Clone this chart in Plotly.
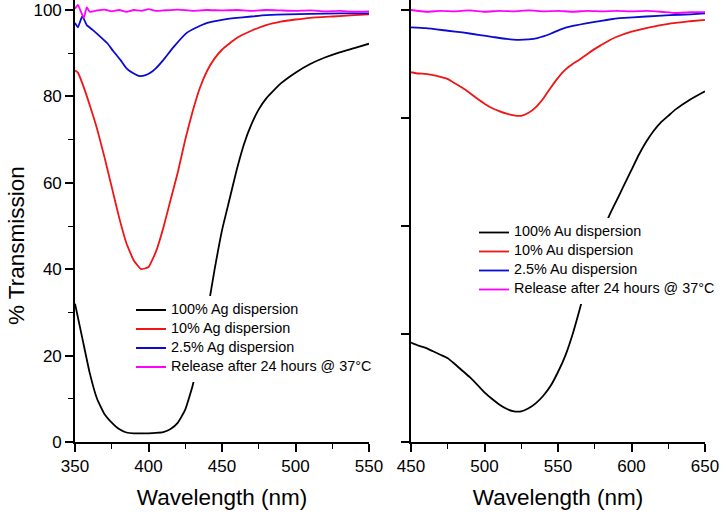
import plotly.graph_objects as go

# ---------------- Ag panel (left) ----------------
ag_black_x = [350, 355, 360, 365, 370, 375, 380, 385, 390, 395, 400, 405, 410, 415, 420, 425, 430, 435, 440,
              445, 450, 455, 460, 465, 470, 475, 480, 490, 500, 510, 520, 530, 540, 550]
ag_black_y = [32, 24, 16, 10, 6.5, 4.5, 3, 2.2, 2, 2, 2, 2.1, 2.3, 3, 4.5, 7.5, 13, 21, 30,
              40, 49, 56, 63, 69, 73.5, 77, 79.5, 83, 85.5, 87.5, 89, 90.2, 91.2, 92.2]

ag_red_x = [350, 352, 355, 360, 365, 370, 375, 380, 385, 390, 395, 400, 405, 410, 415, 420, 425, 430, 435,
            440, 445, 450, 460, 470, 480, 490, 500, 510, 525, 540, 550]
ag_red_y = [86, 85.5, 83, 78, 72.5, 66, 59, 52, 46, 42, 40, 40.5, 44, 49.5, 56, 62.5, 70, 76.5, 82,
            86, 88.8, 90.8, 93.5, 95.2, 96.5, 97.3, 97.8, 98.2, 98.5, 98.8, 99]

ag_blue_x = [350, 352, 355, 358, 362, 366, 372, 376, 381, 385, 390, 394, 398, 401, 405, 410, 417, 426, 433,
             440, 450, 458, 470, 480, 495, 510, 530, 550]
ag_blue_y = [97, 96, 98.6, 96.5, 95.4, 94.2, 92.3, 90.5, 88.4, 86.5, 85.3, 84.7, 84.9, 85.4, 86.5, 88.4, 91.4,
             94.7, 96, 97, 97.7, 98.1, 98.5, 98.8, 99, 99.1, 99.2, 99.2]

ag_mag_x = [350, 352, 354, 356, 358, 360, 365, 370, 375, 380, 385, 390, 395, 400, 405, 410, 420, 430, 440,
            450, 460, 470, 480, 490, 500, 510, 520, 530, 540, 550]
ag_mag_y = [100.3, 101.2, 99.6, 98.2, 100.6, 99.6, 99.9, 100.1, 99.7, 100.0, 99.6, 100.0, 99.8, 100.2, 99.8,
            99.9, 100.1, 99.8, 100.0, 99.9, 100.0, 99.8, 100.0, 99.9, 99.8, 99.9, 99.7, 99.8, 99.6, 99.7]

# ---------------- Au panel (right) ----------------
au_black_x = [450, 455, 460, 465, 470, 475, 480, 485, 490, 495, 500, 505, 510, 515, 520, 525, 530, 535, 540,
              545, 550, 555, 560, 565, 570, 575, 580, 585, 590, 595, 600, 605, 610, 615, 620, 625, 630, 640, 650]
au_black_y = [23, 22.3, 21.8, 21, 20.2, 19.4, 18, 16.5, 15, 13.3, 11.5, 10, 8.7, 7.7, 7.1, 7.1, 7.8, 9, 10.7,
              13, 16.2, 20, 25, 31, 37.5, 43.5, 48.5, 52.5, 56, 59.5, 63, 66.5, 69.5, 72, 74, 75.5, 77, 79.3, 81.2]

au_red_x = [450, 455, 460, 465, 470, 475, 480, 485, 490, 495, 500, 505, 510, 515, 520, 525, 530, 535, 540,
            545, 550, 555, 560, 565, 570, 575, 580, 585, 590, 600, 610, 620, 630, 640, 650]
au_red_y = [85.6, 85.3, 85.2, 84.9, 84.5, 84, 83, 82, 80.8, 79.5, 78.3, 77.3, 76.6, 76, 75.6, 75.5, 76.2, 77.5,
            79.5, 82, 84.3, 86.2, 87.5, 88.6, 89.8, 91, 92, 93, 93.8, 95, 95.8, 96.5, 97, 97.4, 97.7]

au_blue_x = [450, 460, 475, 485, 497, 505, 515, 522, 530, 536, 545, 551, 560, 574, 585, 592, 610, 626, 640, 650]
au_blue_y = [96, 95.8, 95.2, 94.8, 94.2, 93.8, 93.3, 93.1, 93.2, 93.5, 94.5, 95.4, 96.3, 97.2, 97.8, 98.1,
             98.5, 98.8, 99.0, 99.2]

au_mag_x = [450, 460, 470, 480, 490, 500, 510, 520, 530, 540, 550, 560, 570, 580, 590, 600, 610, 620, 630, 640, 650]
au_mag_y = [100.0, 99.6, 99.8, 99.7, 99.9, 99.6, 99.8, 99.7, 99.9, 99.7, 99.8, 99.6, 99.8, 99.7, 99.8, 99.7,
            99.8, 99.6, 99.3, 99.5, 99.5]

ag_names = ["100% Ag dispersion", "10% Ag dispersion", "2.5% Ag dispersion", "Release after 24 hours @ 37\u00b0C"]
au_names = ["100% Au dispersion", "10% Au dispersion", "2.5% Au dispersion", "Release after 24 hours @ 37\u00b0C"]
colors = ["#000000", "#f01414", "#0a0ad2", "#ff00ff"]

x_left_ticks = [350, 400, 450, 500, 550]
x_right_ticks = [450, 500, 550, 600, 650]
y_left_ticks = [0, 20, 40, 60, 80, 100]
y_right_ticks = [0, 25, 50, 75, 100]

FONT = "Liberation Sans, Arial, sans-serif"
LEG_SPAN = '<span style="font-size:14.4px">{}</span>'

fig = go.Figure()

ag_data = [(ag_black_x, ag_black_y), (ag_red_x, ag_red_y), (ag_blue_x, ag_blue_y), (ag_mag_x, ag_mag_y)]
au_data = [(au_black_x, au_black_y), (au_red_x, au_red_y), (au_blue_x, au_blue_y), (au_mag_x, au_mag_y)]

for (xs, ys), name, c in zip(ag_data, ag_names, colors):
    fig.add_trace(go.Scatter(x=xs, y=ys, name=LEG_SPAN.format(name), mode="lines",
                             line=dict(color=c, width=1.8, shape="spline", smoothing=0.4),
                             xaxis="x", yaxis="y", legend="legend"))
for (xs, ys), name, c in zip(au_data, au_names, colors):
    fig.add_trace(go.Scatter(x=xs, y=ys, name=LEG_SPAN.format(name), mode="lines",
                             line=dict(color=c, width=1.8, shape="spline", smoothing=0.4),
                             xaxis="x2", yaxis="y2", legend="legend2"))

axis_common = dict(showline=True, linecolor="black", linewidth=1.6, ticks="outside",
                   tickcolor="black", tickwidth=1.6, ticklen=8, showgrid=False, zeroline=False,
                   automargin=False, ticklabeloverflow="allow",
                   tickfont=dict(family=FONT, size=17, color="black"))

W, H = 721, 516
Y_BOTTOM = (H - 442) / H
Y_TOP_VAL = 100 + 10 / 4.32
TITLE_FONT = dict(family=FONT, size=22.5, color="black")
fig.update_layout(
    width=W, height=H,
    margin=dict(l=0, r=0, t=0, b=0),
    paper_bgcolor="white", plot_bgcolor="white",
    font=dict(family=FONT, color="black"),
    xaxis=dict(domain=[75 / W, 369 / W], range=[350, 550], tickvals=x_left_ticks,
               minor=dict(ticks="outside", dtick=25, tick0=350, ticklen=5, tickwidth=1.4, tickcolor="black"),
               title=dict(text="Wavelength (nm)", font=TITLE_FONT, standoff=14),
               anchor="y", **axis_common),
    yaxis=dict(domain=[Y_BOTTOM, 1.0], range=[0, Y_TOP_VAL], tickvals=y_left_ticks,
               minor=dict(ticks="outside", dtick=10, tick0=0, ticklen=5, tickwidth=1.4, tickcolor="black"),
               anchor="x", **axis_common),
    xaxis2=dict(domain=[411 / W, 705 / W], range=[450, 650], tickvals=x_right_ticks,
                minor=dict(ticks="outside", dtick=25, tick0=450, ticklen=5, tickwidth=1.4, tickcolor="black"),
                title=dict(text="Wavelength (nm)", font=TITLE_FONT, standoff=14),
                anchor="y2", **axis_common),
    yaxis2=dict(domain=[Y_BOTTOM, 1.0], range=[0, Y_TOP_VAL], tickvals=y_right_ticks,
                showticklabels=False, anchor="x2", **axis_common),
    legend=dict(x=131 / W, y=1 - 295.5 / H, xanchor="left", yanchor="top",
                bgcolor="white", borderwidth=0, font=dict(family=FONT, size=10, color="black"),
                tracegroupgap=0, itemwidth=30),
    legend2=dict(x=474 / W, y=1 - 218 / H, xanchor="left", yanchor="top",
                 bgcolor="white", borderwidth=0, font=dict(family=FONT, size=10, color="black"),
                 tracegroupgap=0, itemwidth=30),
    annotations=[dict(text="% Transmission", textangle=-90, xref="paper", yref="paper",
                      x=17 / W, y=1 - 246 / H, xanchor="center", yanchor="middle",
                      showarrow=False, font=TITLE_FONT)],
)

# Remove the browser's default page margin so the 721x516 figure fills the window exactly.
fig.write_html("out.html",
               config={"displayModeBar": False},
               post_script="document.body.style.margin='0';document.body.style.overflow='hidden';")
